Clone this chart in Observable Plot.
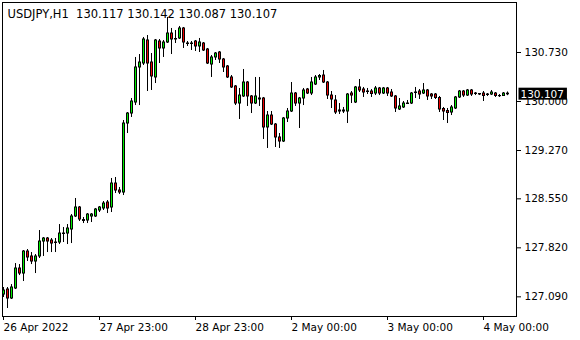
<!DOCTYPE html>
<html><head><meta charset="utf-8">
<script src="https://cdn.jsdelivr.net/npm/d3@7"></script>
<script src="https://cdn.jsdelivr.net/npm/@observablehq/plot@0.6"></script>
<style>
html,body{margin:0;padding:0;background:#fff;}
svg text{white-space:pre;}
</style></head><body><div id="chart"></div>
<script>
const symbol = "USDJPY,H1";
const open = [127.124,127.199,127.065,127.214,127.512,127.437,127.765,127.691,127.616,127.691,
127.914,127.959,127.929,127.899,127.899,128.026,128.033,128.093,128.287,128.421,
128.234,128.227,128.287,128.287,128.376,128.406,128.495,128.421,128.778,128.674,
128.644,129.672,129.821,129.985,130.507,130.566,130.909,130.581,130.358,130.894,
130.790,130.879,131.013,130.931,130.939,131.088,130.864,130.864,130.894,130.820,
130.864,130.775,130.551,130.656,130.730,130.626,130.522,130.358,130.224,129.970,
130.075,130.283,130.075,129.970,130.030,130.045,129.613,129.791,129.657,129.464,
129.404,129.747,129.851,130.119,129.970,130.045,130.179,130.119,130.253,130.358,
130.387,130.283,130.089,130.015,129.866,129.851,129.851,130.119,129.985,130.209,
130.179,130.149,130.149,130.119,130.194,130.119,130.194,130.134,130.075,129.881,
129.911,129.963,129.970,130.127,130.149,130.119,130.164,130.104,130.104,130.052,
129.888,129.858,129.836,129.896,130.060,130.149,130.089,130.164,130.119,130.112,
130.119,130.104,130.104,130.119,130.082,130.082,130.117];
const close = [127.184,127.065,127.229,127.512,127.437,127.765,127.676,127.616,127.691,127.914,
127.959,127.914,127.884,127.892,128.033,128.033,128.108,128.287,128.421,128.242,
128.220,128.316,128.316,128.391,128.421,128.480,128.406,128.778,128.674,128.644,
129.672,129.821,130.000,130.507,130.581,130.924,130.566,130.373,130.909,130.790,
130.879,131.013,130.924,130.924,131.088,130.879,130.857,130.857,130.820,130.879,
130.760,130.566,130.656,130.715,130.626,130.507,130.358,130.209,129.970,130.089,
130.283,130.075,129.970,130.075,130.045,129.613,129.791,129.657,129.464,129.404,
129.747,129.851,130.119,129.970,130.045,130.164,130.119,130.283,130.358,130.380,
130.283,130.089,130.030,129.836,129.851,129.866,130.104,130.089,130.209,130.164,
130.134,130.142,130.112,130.194,130.119,130.194,130.119,130.075,129.896,129.926,
129.970,129.970,130.119,130.134,130.104,130.164,130.075,130.075,130.052,129.881,
129.851,129.829,129.911,130.060,130.149,130.089,130.164,130.104,130.112,130.104,
130.082,130.097,130.134,130.082,130.079,130.119,130.107];
const high = [127.229,127.229,127.273,127.586,127.571,127.780,127.795,127.750,127.720,128.078,
127.974,127.974,127.959,127.959,128.167,128.123,128.167,128.316,128.555,128.436,
128.272,128.331,128.331,128.406,128.436,128.510,128.525,128.853,128.868,128.719,
129.717,129.836,130.045,130.656,130.700,130.954,130.983,130.715,130.924,130.924,
130.909,131.252,131.088,131.058,131.118,131.103,130.894,130.894,130.909,130.939,
130.879,130.790,130.685,130.730,130.745,130.641,130.536,130.387,130.238,130.194,
130.477,130.298,130.089,130.358,130.358,130.060,129.851,129.851,129.672,129.523,
129.762,129.896,130.283,130.134,130.060,130.194,130.194,130.358,130.387,130.402,
130.462,130.298,130.149,130.089,129.970,129.911,130.119,130.149,130.224,130.328,
130.209,130.194,130.179,130.224,130.209,130.209,130.209,130.179,130.089,130.045,
130.000,130.015,130.134,130.209,130.179,130.268,130.179,130.119,130.119,130.075,
129.911,129.896,129.940,130.075,130.164,130.164,130.179,130.179,130.134,130.119,
130.149,130.119,130.164,130.134,130.104,130.134,130.142];
const low = [127.080,126.916,127.050,127.199,127.407,127.318,127.616,127.571,127.437,127.661,
127.691,127.750,127.750,127.750,127.869,127.899,127.869,127.884,128.272,128.212,
128.182,128.182,128.197,128.272,128.346,128.376,128.331,128.346,128.629,128.614,
128.599,129.523,129.762,129.940,129.940,130.536,130.149,130.164,130.268,130.566,
130.656,130.864,130.700,130.864,130.924,130.790,130.820,130.760,130.745,130.730,
130.745,130.551,130.358,130.611,130.566,130.432,130.343,130.194,129.940,129.732,
130.060,129.926,129.821,129.955,129.926,129.434,129.300,129.642,129.315,129.300,
129.389,129.687,129.836,129.926,129.598,129.940,130.104,130.089,130.238,130.313,
130.268,130.030,129.896,129.806,129.806,129.821,129.672,129.970,129.970,130.134,
130.060,130.104,130.060,130.089,130.089,130.104,130.075,130.060,129.836,129.866,
129.896,129.955,129.955,130.045,130.030,130.104,130.015,130.030,130.030,129.836,
129.717,129.672,129.791,129.881,130.045,130.060,130.075,130.075,130.089,130.089,
130.000,130.075,130.089,130.060,130.060,130.075,130.087];
const xTicks = [0, 24, 48, 72, 96, 120];
const xLabels = ["26 Apr 2022", "27 Apr 23:00", "28 Apr 23:00", "2 May 00:00", "3 May 00:00", "4 May 00:00"];
const yTicks = [127.090, 127.820, 128.550, 129.270, 130.000, 130.730];

const bull = "#00ee00", bear = "#ee0000";
const candles = open.map((o, i) => ({i, open: o, high: high[i], low: low[i], close: close[i],
  top: Math.max(o, close[i]), bottom: Math.min(o, close[i])}));
const last = candles[candles.length - 1];
const f3 = d3.format(".3f");
const title = `${symbol}  ${f3(last.open)} ${f3(last.high)} ${f3(last.low)} ${f3(last.close)}`;
const priceText = f3(last.close);
const bigBody = d => d.top - d.bottom > 0.016;

const chart = Plot.plot({
  width: 580, height: 340,
  marginLeft: 2, marginRight: 64, marginTop: 2, marginBottom: 24,
  style: {fontFamily: "DejaVu Sans", fontSize: "10.5px", background: "#fff", color: "#000"},
  x: {domain: [-0.25, 128.25], axis: null, label: null},
  y: {domain: [126.797, 131.475], axis: null, label: null},
  marks: [
    // wicks
    Plot.ruleX(candles, {x: "i", y1: "high", y2: "low", stroke: "#000", strokeWidth: 1}),
    // body outline (3px black)
    Plot.ruleX(candles, {x: "i", y1: "top", y2: "bottom", stroke: "#000", strokeWidth: 3,
      insetTop: -0.5, insetBottom: -0.5}),
    // body fill (1px colour) bullish
    Plot.ruleX(candles, {x: "i", y1: "top", y2: "bottom", strokeWidth: 1, stroke: bull,
      filter: d => bigBody(d) && d.close >= d.open, insetTop: 0.5, insetBottom: 0.5}),
    // body fill bearish
    Plot.ruleX(candles, {x: "i", y1: "top", y2: "bottom", strokeWidth: 1, stroke: bear,
      filter: d => bigBody(d) && d.close < d.open, insetTop: 0.5, insetBottom: 0.5}),
    Plot.frame({stroke: "#000"}),
    Plot.axisY(yTicks, {anchor: "right", label: null, tickSize: 4, tickPadding: 4, tickFormat: f3, fontSize: 10.5}),
    Plot.axisX(xTicks, {anchor: "bottom", label: null, tickSize: 4, tickPadding: 3,
      tickFormat: d => xLabels[xTicks.indexOf(d)], textAnchor: "start", fontSize: 10.5}),
    Plot.text([title], {text: d => d, frameAnchor: "top-left", dx: 5, dy: 7, fontSize: 11.5, fill: "#000"}),
    Plot.text([last.close], {y: d => d, text: d => f3(d), frameAnchor: "right", textAnchor: "start",
      dx: 4, fill: "#fff", fontSize: 10.5})
  ]
});
document.getElementById("chart").appendChild(chart);

try {
  const texts = Array.from(chart.querySelectorAll("text")).filter(t => t.textContent === priceText);
  const t = texts[texts.length - 1];
  if (t) {
    const b = t.getBBox();
    const r = document.createElementNS("http://www.w3.org/2000/svg", "rect");
    r.setAttribute("x", b.x - 2);
    r.setAttribute("y", b.y);
    r.setAttribute("width", b.width + 5);
    r.setAttribute("height", b.height);
    r.setAttribute("fill", "#000");
    if (t.getAttribute("transform")) r.setAttribute("transform", t.getAttribute("transform"));
    t.parentNode.insertBefore(r, t);
    t.setAttribute("fill", "#fff");
  }
} catch (e) { console.error(e); }
</script></body></html>
